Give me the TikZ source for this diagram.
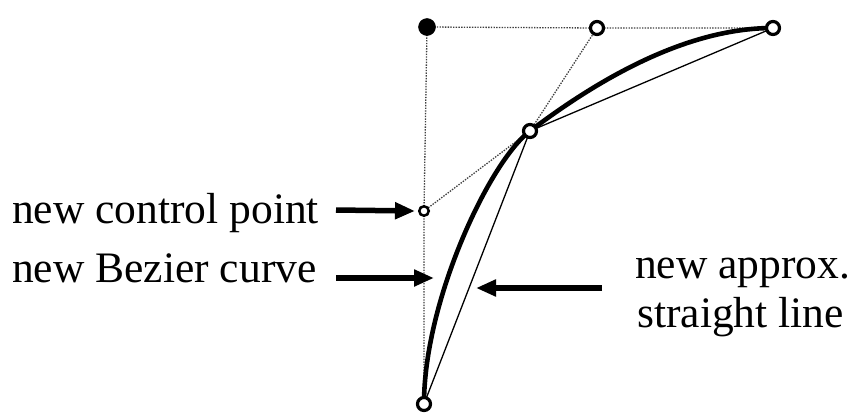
\documentclass[tikz,border=0pt]{standalone}
\usepackage{fontspec}
\setmainfont{Liberation Serif}
\usetikzlibrary{arrows.meta,calc}
\begin{document}
\begin{tikzpicture}[x=1pt,y=-1pt,
  openpt/.style={circle,draw=black,fill=white,line width=3.2pt,minimum size=13pt,inner sep=0pt},
  smallpt/.style={circle,draw=black,fill=white,line width=2.5pt,minimum size=9.5pt,inner sep=0pt},
  fullpt/.style={circle,draw=black,fill=black,line width=0.5pt,minimum size=17pt,inner sep=0pt},
  guide/.style={draw=black!75,line width=1.3pt,dash pattern=on 1.4pt off 1.3pt},
  chord/.style={draw=black,line width=1.3pt},
  curveline/.style={draw=black,line width=4.6pt},
  pointer/.style={draw=black,line width=5.5pt,-{Triangle[length=20pt,width=16pt]}},
  lbl/.style={inner sep=0pt,anchor=base west,font=\fontsize{43.5}{49}\selectfont}
]
\useasboundingbox (0,0) rectangle (852,413);
% point positions
\coordinate (P0) at (427,27);
\coordinate (A) at (597,28);
\coordinate (E) at (773,28);
\coordinate (M) at (530,131);
\coordinate (C) at (424,211);
\coordinate (B) at (424,404);
% dotted control polygon
\draw[guide] (E) -- (A) -- (P0) -- (C) -- (B);
\draw[guide] (C) -- (M) -- (A);
% straight approximations
\draw[chord] (B) -- (M) -- (E);
% new Bezier curve
\draw[curveline] (B) .. controls (424,300) and (490,161) .. (M)
  .. controls (620,63) and (701,28) .. (E);
% points
\node[fullpt] (nP0) at (P0) {};
\node[openpt] (nA) at (A) {};
\node[openpt] (nE) at (E) {};
\node[openpt] (nM) at (M) {};
\node[smallpt] (nC) at (C) {};
\node[openpt] (nB) at (B) {};
% labels
\node[lbl] (l1) at (12,223) {new control point};
\node[lbl] (l2) at (12,282) {new Bezier curve};
\node[lbl] (l3) at (635,278) {new approx.};
\node[lbl] (l4) at (637,327) {straight line};
% pointers
\coordinate (t1) at (336,210);
\coordinate (t2) at (336,278);
\coordinate (h2) at (434,278);
\coordinate (t3) at (602,288);
\coordinate (h3) at (476,288);
\draw[pointer] (t1) -- ([xshift=-3pt]nC.west);
\draw[pointer] (t2) -- (h2);
\draw[pointer] (t3) -- (h3);
\end{tikzpicture}
\end{document}
